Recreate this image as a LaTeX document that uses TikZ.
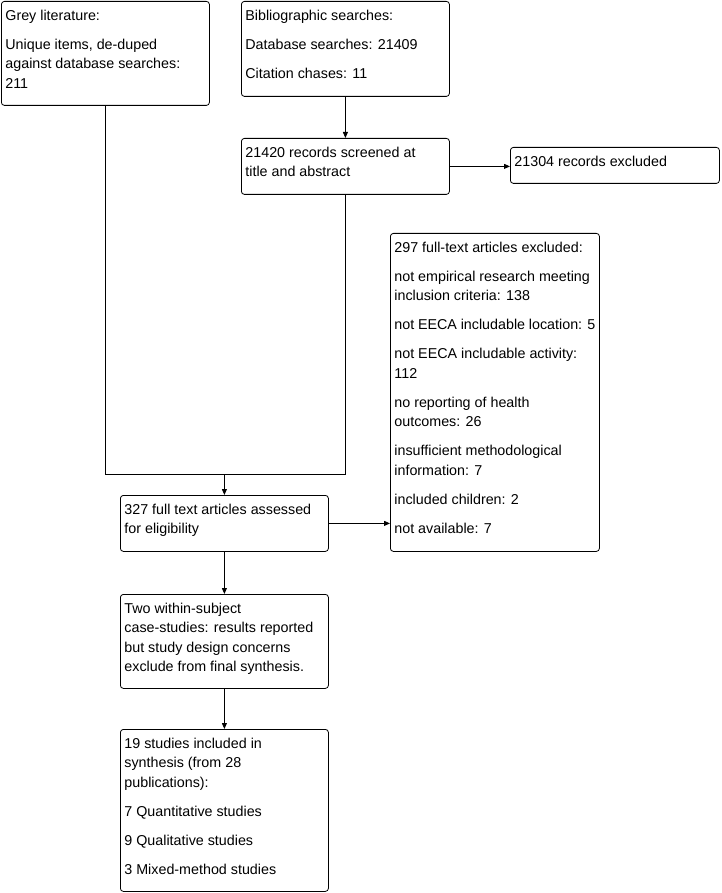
\documentclass[tikz,border=0pt]{standalone}
\usepackage{fontspec}
\setmainfont{Liberation Sans}
\usepackage{tikz}
\usetikzlibrary{arrows.meta,calc}
\tikzset{
  blk/.style = {draw, rounded corners=3pt, anchor=north west, line width=0.8pt,
                inner xsep=4pt, inner ysep=5pt,
                font=\fontsize{14.3}{19.5}\selectfont},
  ln/.style  = {line width=0.8pt},
  ar/.style  = {line width=0.8pt, -{Triangle[length=6pt,width=5pt]}},
}
% box content: full width, full height, text
\newcommand{\boxtext}[3]{\parbox[t][\dimexpr #2pt-10pt\relax][t]{\dimexpr #1pt-8pt\relax}{%
  \raggedright\setlength{\parskip}{9.5pt}\strut #3}}

\begin{document}
\begin{tikzpicture}[x=1pt, y=-1pt]
\useasboundingbox (0,0) rectangle (721,893);

\node[blk] (grey) at (1,1) {\boxtext{208}{104}{Grey literature:\par
  Unique items, de-duped\\against database searches:\\211}};

\node[blk] (bib) at (241,1) {\boxtext{208}{95}{Bibliographic searches:\par
  Database searches: 21409\par
  Citation chases: 11}};

\node[blk] (scr) at (241,138) {\boxtext{208}{56}{21420 records screened at\\title and abstract}};

\node[blk] (exc) at (510,147) {\boxtext{209}{36}{21304 records excluded}};

\node[blk] (ftx) at (390,233) {\boxtext{209}{318}{297 full-text articles excluded:\par
  not empirical research meeting\\inclusion criteria: 138\par
  not EECA includable location: 5\par
  not EECA includable activity:\\112\par
  no reporting of health\\outcomes: 26\par
  insufficient methodological\\information: 7\par
  included children: 2\par
  not available: 7}};

\node[blk] (ass) at (120,495) {\boxtext{208}{56}{327 full text articles assessed\\for eligibility}};

\node[blk] (two) at (120,594) {\boxtext{208}{94}{Two within-subject\\case-studies: results reported\\but study design concerns\\exclude from final synthesis.}};

\node[blk] (inc) at (120,729) {\boxtext{208}{162}{19 studies included in\\synthesis (from 28\\publications):\par
  7 Quantitative studies\par
  9 Qualitative studies\par
  3 Mixed-method studies}};

\coordinate (mrg) at (ass.north |- 0,474);

\draw[ar] (bib) -- (scr);
\draw[ar] (scr.east) -- (scr.east -| exc.west);
\draw[ln] (grey.south) |- (mrg);
\draw[ln] (scr.south) |- (mrg);
\draw[ar] (mrg) -- (ass.north);
\draw[ar] (ass.east) -- (ass.east -| ftx.west);
\draw[ar] (ass) -- (two);
\draw[ar] (two) -- (inc);
\end{tikzpicture}
\end{document}
